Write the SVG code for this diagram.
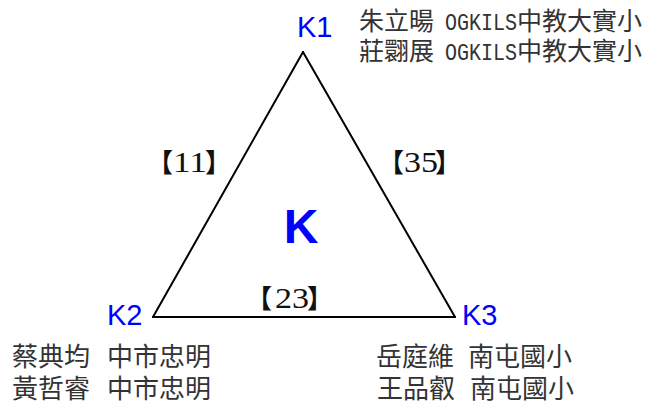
<svg xmlns="http://www.w3.org/2000/svg" width="645" height="403" viewBox="0 0 645 403">
<style>
.edge{stroke:#000;stroke-width:2;fill:none;stroke-linecap:round}
.vlab{font-family:"Liberation Sans",Arial,sans-serif;font-size:29px;fill:#0000ff}
.center{font-family:"Liberation Sans",Arial,sans-serif;font-size:48px;font-weight:bold;fill:#0000ff}
.info{font-family:"Noto Sans CJK TC","Noto Sans CJK SC",sans-serif;fill:#333}
.top{font-size:25px}
.bot{font-size:26px}
.mono{font-family:"Liberation Mono","Noto Sans CJK TC",monospace;font-size:24px}
.br{font-family:"Noto Sans CJK TC","Noto Sans CJK SC",sans-serif;font-size:26px;font-weight:bold;fill:#111}
.dg{font-family:"Liberation Serif","Times New Roman",serif;font-size:29px;fill:#111}
</style>
<rect width="645" height="403" fill="#fff"/>
<g id="connectors">
<line class="edge" x1="303" y1="52" x2="153" y2="317"/>
<line class="edge" x1="303" y1="52" x2="455" y2="317"/>
<line class="edge" x1="153" y1="317" x2="455" y2="317"/>
</g>
<g id="edge-labels">
<text y="172"><tspan class="br" x="147">【</tspan><tspan class="dg" x="173" textLength="34" lengthAdjust="spacingAndGlyphs">11</tspan><tspan class="br" x="205">】</tspan></text>
<text y="172"><tspan class="br" x="378">【</tspan><tspan class="dg" x="404" textLength="34" lengthAdjust="spacingAndGlyphs">35</tspan><tspan class="br" x="435">】</tspan></text>
<text y="308"><tspan class="br" x="246">【</tspan><tspan class="dg" x="275" textLength="34" lengthAdjust="spacingAndGlyphs">23</tspan><tspan class="br" x="307">】</tspan></text>
</g>
<g id="K">
<text class="center" x="301" y="243" text-anchor="middle">K</text>
</g>
<g id="K1">
<text class="vlab" x="297" y="37">K1</text>
<text class="info top" y="30"><tspan x="359">朱立暘</tspan><tspan class="mono" x="445" textLength="72" lengthAdjust="spacingAndGlyphs">OGKILS</tspan><tspan x="517">中教大實小</tspan></text>
<text class="info top" y="60"><tspan x="359">莊翾展</tspan><tspan class="mono" x="445" textLength="72" lengthAdjust="spacingAndGlyphs">OGKILS</tspan><tspan x="517">中教大實小</tspan></text>
</g>
<g id="K2">
<text class="vlab" x="107" y="325">K2</text>
<text class="info bot" y="366"><tspan x="12">蔡典均</tspan><tspan x="107">中市忠明</tspan></text>
<text class="info bot" y="398"><tspan x="12">黃哲睿</tspan><tspan x="107">中市忠明</tspan></text>
</g>
<g id="K3">
<text class="vlab" x="462" y="325">K3</text>
<text class="info bot" y="366"><tspan x="376">岳庭維</tspan><tspan x="468">南屯國小</tspan></text>
<text class="info bot" y="398"><tspan x="377">王品叡</tspan><tspan x="470">南屯國小</tspan></text>
</g>
</svg>
